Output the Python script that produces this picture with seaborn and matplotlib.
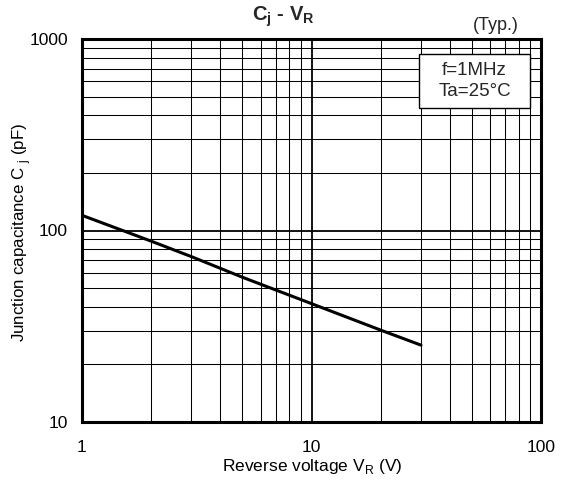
import matplotlib
matplotlib.use("Agg")
import matplotlib.pyplot as plt
import seaborn as sns
import pandas as pd
import numpy as np
from matplotlib.ticker import LogLocator, FixedLocator, FixedFormatter, NullFormatter

# Typical junction capacitance vs reverse voltage
reverse_voltage = [1, 2, 3, 5, 10, 20, 30]          # V
junction_cap = [120, 88, 73, 57, 41.5, 30.2, 25.2]  # pF

x_ticks = [1, 10, 100]
x_tick_labels = ["1", "10", "100"]
y_ticks = [10, 100, 1000]
y_tick_labels = ["10", "100", "1000"]

sns.set_theme(style="white")
plt.rcParams["font.family"] = ["Liberation Sans", "DejaVu Sans"]

df = pd.DataFrame({"VR": reverse_voltage, "Cj": junction_cap})

W, H = 571, 483
fig = plt.figure(figsize=(W / 100, H / 100), dpi=100)
left, right, top, bottom = 82, 541, 39, 422
ax = fig.add_axes([left / W, 1 - bottom / H, (right - left) / W, (bottom - top) / H])

ax.set_xscale("log")
ax.set_yscale("log")
ax.set_xlim(1, 100)
ax.set_ylim(10, 1000)

# grid: minor decades thin, major decades a bit heavier
ax.xaxis.set_minor_locator(LogLocator(base=10, subs=np.arange(2, 10)))
ax.yaxis.set_minor_locator(LogLocator(base=10, subs=np.arange(2, 10)))
ax.xaxis.set_minor_formatter(NullFormatter())
ax.yaxis.set_minor_formatter(NullFormatter())
ax.grid(True, which="minor", color="black", linewidth=0.75)
ax.grid(True, which="major", color="black", linewidth=1.3)
ax.set_axisbelow(True)

sns.lineplot(data=df, x="VR", y="Cj", ax=ax, color="black", linewidth=2.2, zorder=3)

ax.xaxis.set_major_locator(FixedLocator(x_ticks))
ax.xaxis.set_major_formatter(FixedFormatter(x_tick_labels))
ax.yaxis.set_major_locator(FixedLocator(y_ticks))
ax.yaxis.set_major_formatter(FixedFormatter(y_tick_labels))
ax.tick_params(axis="both", which="both", length=0, labelsize=12.5, colors="black")
ax.tick_params(axis="x", pad=13)
ax.tick_params(axis="y", pad=10)

for side in ax.spines.values():
    side.set_visible(True)
    side.set_color("black")
    side.set_linewidth(2.2)

ax.set_xlabel("Reverse voltage V$_\\mathregular{R}$ (V)", fontsize=12.5, color="black")
ax.xaxis.set_label_coords(0.5 * (223 + 402 - 2 * left) / (right - left), -(467 - bottom) / (bottom - top))
ax.xaxis.label.set_va("center")
ax.set_ylabel("Junction capacitance C $_\\mathregular{j}$ (pF)", fontsize=12.2, color="black")
ax.yaxis.set_label_coords(-(left - 22) / (right - left), (bottom - 232) / (bottom - top))
ax.yaxis.label.set_va("center")

fig.text(283 / W, 1 - 17 / H, "C$_\\mathregular{j}$ - V$_\\mathregular{R}$",
         ha="center", va="center", fontsize=14.5, fontweight="bold")
fig.text(519 / W, 1 - 26 / H, "(Typ.)", ha="right", va="center", fontsize=13)

# condition box in the upper-right corner
box_l, box_r, box_t, box_b = 419, 530, 54, 108
ax.add_patch(plt.Rectangle(((box_l - left) / (right - left), (bottom - box_b) / (bottom - top)),
                           (box_r - box_l) / (right - left), (box_b - box_t) / (bottom - top),
                           transform=ax.transAxes, facecolor="white", edgecolor="black",
                           linewidth=1.0, zorder=5))
ax.text((0.5 * (box_l + box_r) - left) / (right - left), (bottom - 0.5 * (box_t + box_b)) / (bottom - top),
        "f=1MHz\nTa=25°C", transform=ax.transAxes, ha="center", va="center",
        fontsize=13.5, linespacing=1.25, zorder=6)

fig.savefig("out.png", dpi=100, facecolor="white")
